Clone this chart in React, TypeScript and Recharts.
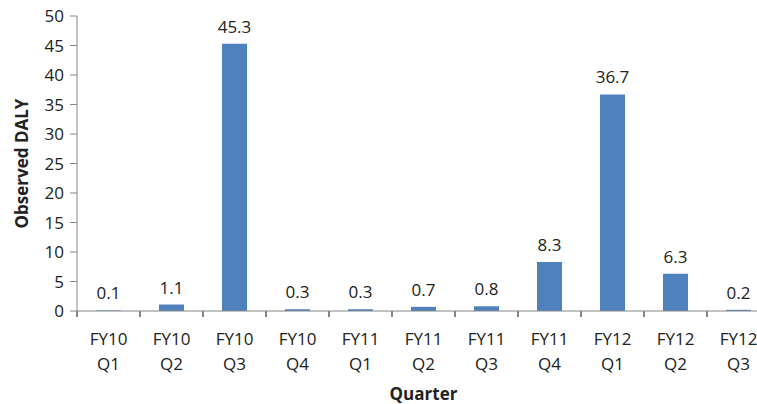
import React from "react";
import { BarChart, Bar, XAxis, YAxis, LabelList, ReferenceLine } from "recharts";

const fiscalYears = ["FY10", "FY10", "FY10", "FY10", "FY11", "FY11", "FY11", "FY11", "FY12", "FY12", "FY12"];
const quarters = ["Q1", "Q2", "Q3", "Q4", "Q1", "Q2", "Q3", "Q4", "Q1", "Q2", "Q3"];
const observedDaly = [0.1, 1.1, 45.3, 0.3, 0.3, 0.7, 0.8, 8.3, 36.7, 6.3, 0.2];
const yTicks = [0, 5, 10, 15, 20, 25, 30, 35, 40, 45, 50];

const data = observedDaly.map((v, i) => ({
  quarter: `${fiscalYears[i]} ${quarters[i]}`,
  daly: v,
}));

const FONT = "'Open Sans', 'Noto Sans', sans-serif";
const AXIS = "#868686";
const TEXT = "#222";

// two-line category label
function QuarterTick(props: any) {
  const { x, y, payload } = props;
  const [fy, q] = String(payload.value).split(" ");
  return (
    <g transform={`translate(${x},${y})`}>
      <text textAnchor="middle" fill={TEXT} fontSize={17} fontFamily={FONT}>
        <tspan x={0} dy={28}>{fy}</tspan>
        <tspan x={0} dy={25}>{q}</tspan>
      </text>
    </g>
  );
}

export default function App() {
  return (
    <div
      style={{
        position: "absolute",
        top: 0,
        left: 0,
        width: 757,
        height: 404,
        overflow: "hidden",
        background: "#fff",
      }}
    >
      <BarChart
        width={780}
        height={404}
        data={data}
        margin={{ top: 16, right: 10, bottom: 0, left: 0 }}
      >
        <XAxis
          dataKey="quarter"
          interval={0}
          height={93}
          axisLine={{ stroke: AXIS }}
          tickLine={false}
          tickSize={6}
          tickMargin={0}
          tick={<QuarterTick />}
          label={{
            value: "Quarter",
            position: "insideBottom",
            offset: 4,
            fill: TEXT,
            fontSize: 17,
            fontWeight: 700,
            fontFamily: FONT,
          }}
        />
        <YAxis
          domain={[0, 50]}
          ticks={yTicks}
          width={77}
          allowDataOverflow
          axisLine={{ stroke: AXIS }}
          tickLine={{ stroke: AXIS }}
          tickSize={7}
          tickMargin={6}
          tick={{ fill: TEXT, fontSize: 17, fontFamily: FONT }}
          label={{
            value: "Observed DALY",
            angle: -90,
            position: "insideLeft",
            offset: 22,
            style: { textAnchor: "middle" },
            fill: TEXT,
            fontSize: 17,
            fontWeight: 700,
            fontFamily: FONT,
          }}
        />
        {/* short tick marks below the axis at the start of each band */}
        {data.map((d) => (
          <ReferenceLine
            key={d.quarter}
            segment={[
              { x: d.quarter, y: 0 },
              { x: d.quarter, y: -1.1 },
            ]}
            position="start"
            ifOverflow="visible"
            stroke={AXIS}
            strokeWidth={1.2}
            shapeRendering="crispEdges"
          />
        ))}
        <Bar dataKey="daly" fill="#4f81bd" barSize={25} isAnimationActive={false}>
          <LabelList
            dataKey="daly"
            position="top"
            offset={11}
            fill={TEXT}
            fontSize={17}
            fontFamily={FONT}
          />
        </Bar>
      </BarChart>
    </div>
  );
}
